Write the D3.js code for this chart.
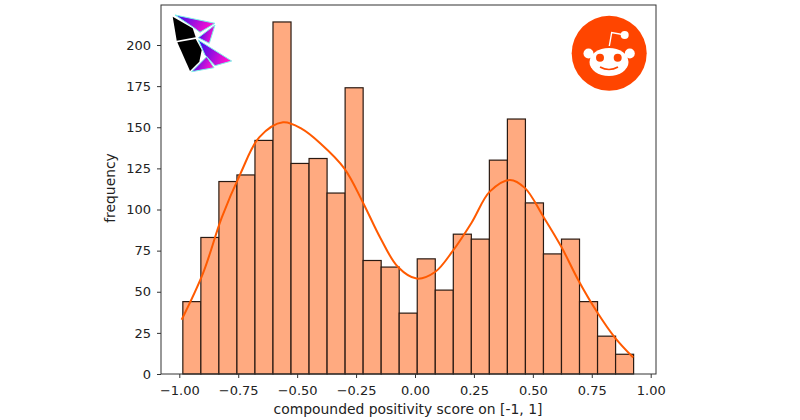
<!DOCTYPE html>
<html>
<head>
<meta charset="utf-8">
<script src="https://cdn.jsdelivr.net/npm/d3@7"></script>
<style>
  body { margin: 0; background: #fff; }
  text { font-family: "DejaVu Sans", sans-serif; fill: #222; }
</style>
</head>
<body>
<script>
// histogram counts, left to right
const counts = [44, 83, 117, 121, 142, 214, 128, 131, 110, 174, 69, 65, 37, 70, 51, 85, 82, 130, 155, 104, 73, 82, 44, 23, 12];
const binStart = -0.985;
const binWidth = 0.0765;

// smooth curve over the bars
const kdeX = [-0.99, -0.9, -0.82, -0.74, -0.66, -0.56, -0.48, -0.4, -0.3, -0.22, -0.148, -0.072, 0.007, 0.085, 0.161, 0.24, 0.318, 0.403, 0.467, 0.543, 0.622, 0.693, 0.771, 0.849, 0.926];
const kdeY = [33, 61, 95, 122, 144, 153, 149, 140, 125, 104, 83, 65, 58, 62, 75, 92, 111, 118, 113, 96, 77, 57, 38, 22, 10];

const xTicks = [-1, -0.75, -0.5, -0.25, 0, 0.25, 0.5, 0.75, 1];
const yTicks = [0, 25, 50, 75, 100, 125, 150, 175, 200];

const left = 161, right = 656, top_ = 5, bottom = 374;

const x = d3.scaleLinear().domain([-1, 1]).range([179.3, 650.7]);
const y = d3.scaleLinear().domain([0, 200]).range([bottom, 45]);

const svg = d3.select('body').append('svg').attr('width', 800).attr('height', 420);

svg.append('g').selectAll('rect').data(counts).join('rect')
  .attr('x', (d, i) => x(binStart + i * binWidth))
  .attr('width', x(binWidth) - x(0))
  .attr('y', d => y(d))
  .attr('height', d => y(0) - y(d))
  .attr('fill', '#ffaa80')
  .attr('stroke', '#2a1a12')
  .attr('stroke-width', 1.2);

const line = d3.line().x(d => x(d[0])).y(d => y(d[1])).curve(d3.curveCatmullRom);
svg.append('path')
  .attr('d', line(kdeX.map((v, i) => [v, kdeY[i]])))
  .attr('fill', 'none')
  .attr('stroke', '#ff5a00')
  .attr('stroke-width', 2);

// frame
svg.append('rect')
  .attr('x', left).attr('y', top_)
  .attr('width', right - left).attr('height', bottom - top_)
  .attr('fill', 'none').attr('stroke', '#333').attr('stroke-width', 1);

const xAxis = svg.append('g').attr('transform', `translate(0,${bottom})`)
  .call(d3.axisBottom(x).tickValues(xTicks).tickFormat(d3.format('.2f')).tickSize(4).tickPadding(8));
const yAxis = svg.append('g').attr('transform', `translate(${left},0)`)
  .call(d3.axisLeft(y).tickValues(yTicks).tickSize(4).tickPadding(6));
xAxis.select('.domain').remove();
yAxis.select('.domain').remove();
svg.selectAll('.tick text').style('font-family', '"DejaVu Sans"').style('font-size', '13px').style('fill', '#222');
svg.selectAll('.tick line').attr('stroke', '#333');

svg.append('text').attr('x', 408).attr('y', 414).attr('text-anchor', 'middle')
  .style('font-size', '13.9px').text('compounded positivity score on [-1, 1]');
svg.append('text').attr('transform', 'translate(115,188) rotate(-90)').attr('text-anchor', 'middle')
  .style('font-size', '13.9px').text('frequency');

// flutter-ish logo top left
const defs = svg.append('defs');
const grad = defs.append('linearGradient').attr('id', 'logoGrad').attr('x1', 0).attr('x2', 1).attr('y1', 0).attr('y2', 0.3);
grad.append('stop').attr('offset', '0%').attr('stop-color', '#2a10f0');
grad.append('stop').attr('offset', '100%').attr('stop-color', '#ff10d0');
const logo = svg.append('g');
const shard = (pts, fill) => logo.append('polygon').attr('points', pts).attr('fill', fill);
[
  '175,15 215,23.3 200,32.3 193.3,27.3',
  '215,25 209.3,43.3 198.3,37.7',
  '198.3,40 231.7,61 215,65.7 205,55',
  '206.7,56.7 214,67.7 191.7,71.7'
].forEach(p => shard(p, 'url(#logoGrad)').attr('stroke', '#7ff5ea').attr('stroke-width', 1));
shard('172.7,16.7 192.7,28.3 195.7,37.3 176.7,40.7', '#000');
shard('177.3,42.3 195.7,39 201.7,50 199.3,61.7 190,71', '#000');

// reddit logo top right
const red = svg.append('g');
red.append('circle').attr('cx', 609.2).attr('cy', 53.3).attr('r', 37.5).attr('fill', '#ff4500');
red.append('path').attr('d', 'M609.3,46 L611.7,32.5 L625,35').attr('fill', 'none').attr('stroke', '#fff').attr('stroke-width', 1.4);
red.append('circle').attr('cx', 624.7).attr('cy', 35).attr('r', 4).attr('fill', '#fff');
red.append('circle').attr('cx', 588.5).attr('cy', 53.5).attr('r', 5).attr('fill', '#fff');
red.append('circle').attr('cx', 629.8).attr('cy', 53.5).attr('r', 5).attr('fill', '#fff');
red.append('ellipse').attr('cx', 609).attr('cy', 62).attr('rx', 19.5).attr('ry', 14).attr('fill', '#fff');
red.append('circle').attr('cx', 600).attr('cy', 57.7).attr('r', 4).attr('fill', '#ff4500');
red.append('circle').attr('cx', 617.7).attr('cy', 57.7).attr('r', 4).attr('fill', '#ff4500');
red.append('path').attr('d', 'M600,67 Q609,72 618,67').attr('fill', 'none').attr('stroke', '#ff4500').attr('stroke-width', 1.6);
</script>
</body>
</html>
